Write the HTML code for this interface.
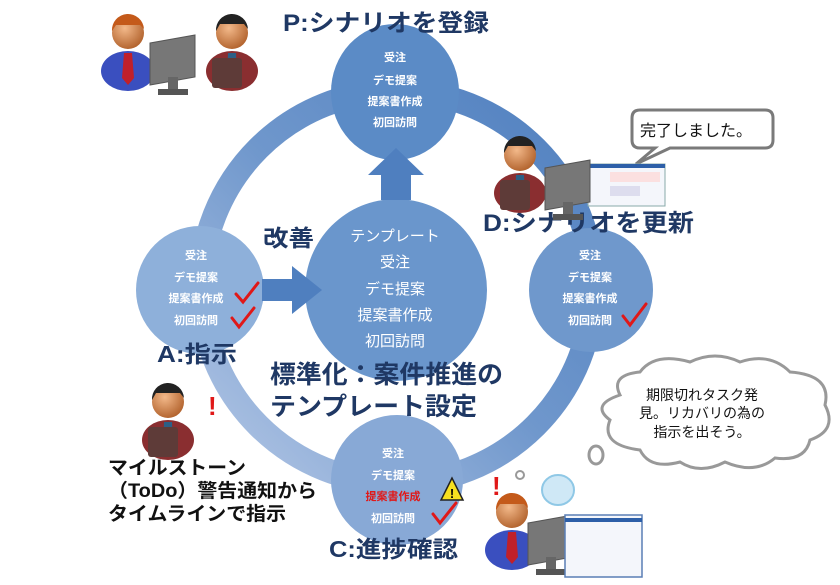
<!DOCTYPE html>
<html><head><meta charset="utf-8">
<style>
html,body{margin:0;padding:0;background:#fff;}
body{width:840px;height:580px;overflow:hidden;font-family:"Liberation Sans","Noto Sans CJK JP",sans-serif;}
svg text{font-family:"Liberation Sans","Noto Sans CJK JP",sans-serif;}
</style></head><body>
<svg width="840" height="580" viewBox="0 0 840 580" xmlns="http://www.w3.org/2000/svg">
<defs>
<linearGradient id="ring" x1="1" y1="0" x2="0" y2="1">
<stop offset="0" stop-color="#4f7fbf"/><stop offset="0.5" stop-color="#6f97cc"/><stop offset="1" stop-color="#b5c8e6"/>
</linearGradient>
<radialGradient id="head" cx="0.4" cy="0.35" r="0.7"><stop offset="0" stop-color="#f3b98a"/><stop offset="1" stop-color="#b0602a"/></radialGradient>
<g id="pblue">
<ellipse cx="0" cy="38" rx="27" ry="20" fill="#3a4fbf"/>
<polygon points="-4,20 4,20 6,45 0,52 -6,45" fill="#c0202a"/>
<circle cx="0" cy="0" r="16" fill="url(#head)"/>
<path d="M-16,-2 A16,16 0 0 1 16,-4 L12,-8 -12,-8Z" fill="#c45a1a"/>
</g>
<g id="pred">
<ellipse cx="0" cy="38" rx="26" ry="20" fill="#8a2e30"/>
<polygon points="-4,20 4,20 5,45 0,50 -5,45" fill="#2c5f86"/>
<circle cx="0" cy="0" r="16" fill="url(#head)"/>
<path d="M-16,-2 A16,16 0 0 1 16,-4 L12,-9 -12,-9Z" fill="#222"/>
<rect x="-20" y="25" width="30" height="30" rx="3" fill="#5e3b38"/>
</g>
<g id="monitor">
<polygon points="0,8 45,0 45,42 0,50" fill="#777" stroke="#555"/>
<rect x="18" y="42" width="10" height="14" fill="#666"/>
<rect x="8" y="54" width="30" height="6" fill="#555"/>
</g>
</defs>

<circle cx="397" cy="287" r="196" fill="none" stroke="url(#ring)" stroke-width="24"/>

<ellipse cx="395" cy="92" rx="64" ry="68" fill="#5b8bc6"/>
<circle cx="396" cy="290" r="91" fill="#6a96cc"/>
<circle cx="200" cy="290" r="64" fill="#8eb0da"/>
<circle cx="591" cy="290" r="62" fill="#6f98cc"/>
<ellipse cx="397" cy="480" rx="66" ry="65" fill="#88a9d6"/>

<polygon points="381,200 411,200 411,175 424,175 396,148 368,175 381,175" fill="#4f7fbf"/>
<polygon points="262,279 292,279 292,266 322,290 292,314 292,301 262,301" fill="#4f7fbf"/>

<g fill="#fff" font-weight="bold" font-size="11" text-anchor="middle">
<text x="395" y="61">受注</text><text x="395" y="84">デモ提案</text><text x="395" y="105">提案書作成</text><text x="395" y="126">初回訪問</text>
<text x="196" y="259">受注</text><text x="196" y="281">デモ提案</text><text x="196" y="302">提案書作成</text><text x="196" y="324">初回訪問</text>
<text x="590" y="259">受注</text><text x="590" y="281">デモ提案</text><text x="590" y="302">提案書作成</text><text x="590" y="324">初回訪問</text>
<text x="393" y="457">受注</text><text x="393" y="479">デモ提案</text><text x="393" y="500" fill="#e01818">提案書作成</text><text x="393" y="522">初回訪問</text>
</g>
<g fill="#fff" font-size="15" text-anchor="middle">
<text x="395" y="241">テンプレート</text><text x="395" y="267">受注</text><text x="395" y="294">デモ提案</text><text x="395" y="320">提案書作成</text><text x="395" y="346">初回訪問</text>
</g>

<g fill="none" stroke="#e01818" stroke-width="3" stroke-linecap="round">
<path d="M236,294 L243,302 L258,283"/><path d="M232,318 L239,327 L254,308"/>
<path d="M623,316 L630,325 L646,304"/><path d="M433,514 L440,523 L456,503"/>
</g>
<polygon points="452,478 441,500 463,500" fill="#f6e020" stroke="#222" stroke-width="1.5"/>
<text x="452" y="498" font-size="13" font-weight="bold" text-anchor="middle" fill="#000">!</text>

<g fill="#1f3864" font-weight="bold" lengthAdjust="spacingAndGlyphs">
<text x="283" y="31" font-size="24" textLength="206" lengthAdjust="spacingAndGlyphs">P:シナリオを登録</text>
<text x="483" y="231" font-size="24" textLength="211" lengthAdjust="spacingAndGlyphs">D:シナリオを更新</text>
<text x="263" y="246" font-size="23" textLength="51" lengthAdjust="spacingAndGlyphs">改善</text>
<text x="157" y="362" font-size="23" textLength="80" lengthAdjust="spacingAndGlyphs">A:指示</text>
<text x="270" y="383" font-size="25" textLength="233" lengthAdjust="spacingAndGlyphs">標準化：案件推進の</text>
<text x="270" y="415" font-size="25" textLength="207" lengthAdjust="spacingAndGlyphs">テンプレート設定</text>
<text x="329" y="557" font-size="23" textLength="129" lengthAdjust="spacingAndGlyphs">C:進捗確認</text>
</g>
<g fill="#111" font-weight="bold" font-size="19">
<text x="108" y="474" textLength="138" lengthAdjust="spacingAndGlyphs">マイルストーン</text>
<text x="108" y="497" textLength="209" lengthAdjust="spacingAndGlyphs">（ToDo）警告通知から</text>
<text x="108" y="520" textLength="178" lengthAdjust="spacingAndGlyphs">タイムラインで指示</text>
</g>

<path d="M640,110 H765 Q773,110 773,118 V140 Q773,148 765,148 H670 L636,164 L655,148 H640 Q632,148 632,140 V118 Q632,110 640,110Z" fill="#fff" stroke="#7a7a7a" stroke-width="3"/>
<text x="640" y="136" font-size="16" fill="#111">完了しました。</text>
<rect x="588" y="164" width="77" height="42" fill="#f4f6fb" stroke="#8aa" stroke-width="1"/>
<rect x="588" y="164" width="77" height="4" fill="#2d5fa8"/>
<rect x="610" y="172" width="50" height="10" fill="#fbe0e0"/>
<rect x="610" y="186" width="30" height="10" fill="#dde"/>

<path d="M620,395 Q610,375 640,372 Q655,352 690,362 Q715,350 740,362 Q770,352 790,372 Q832,375 825,405 Q838,430 810,440 Q805,462 775,458 Q755,475 725,462 Q700,475 680,462 Q650,470 640,450 Q600,445 610,420 Q590,405 620,395Z" fill="#fff" stroke="#999" stroke-width="3"/>
<ellipse cx="596" cy="455" rx="7" ry="9" fill="#fff" stroke="#999" stroke-width="3"/>
<ellipse cx="520" cy="475" rx="4" ry="4" fill="#fff" stroke="#999" stroke-width="2"/>
<g font-size="14" fill="#111" text-anchor="middle">
<text x="702" y="400">期限切れタスク発</text><text x="702" y="418">見。リカバリの為の</text><text x="702" y="437">指示を出そう。</text>
</g>

<use href="#pblue" x="128" y="33"/>
<use href="#monitor" x="150" y="35"/>
<use href="#pred" x="232" y="33"/>
<use href="#pred" x="520" y="155"/>
<use href="#monitor" x="545" y="160"/>
<use href="#pred" x="168" y="402"/>
<use href="#pblue" x="512" y="512"/>
<use href="#monitor" x="528" y="515"/>
<rect x="565" y="515" width="77" height="62" fill="#f4f6fb" stroke="#5a7fb5" stroke-width="1.5"/>
<rect x="565" y="518" width="77" height="4" fill="#2d5fa8"/>
<ellipse cx="558" cy="490" rx="16" ry="15" fill="#cfe8f6" stroke="#8fc8e6" stroke-width="2"/>
<g fill="#e01818" font-weight="bold" font-size="26">
<text x="208" y="415">!</text><text x="492" y="495">!</text>
</g>
</svg>
</body></html>
